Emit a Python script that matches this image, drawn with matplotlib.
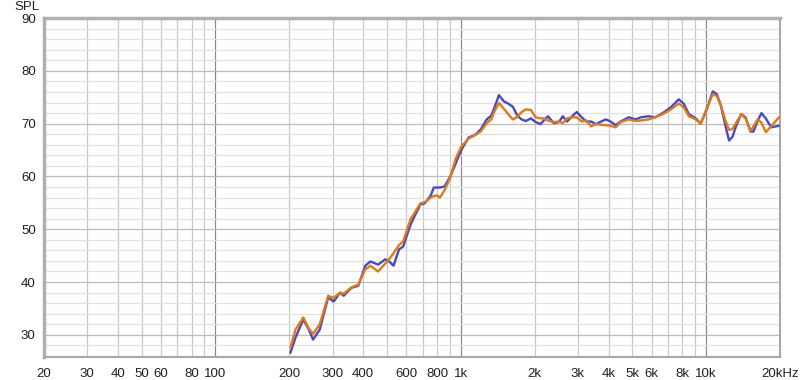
import matplotlib
matplotlib.use("Agg")
import matplotlib.pyplot as plt
import numpy as np

# frequency (Hz) and SPL (dB)
freq = [202, 212, 228, 240, 250, 266, 288, 303, 322, 333, 358, 382, 408, 428, 460,
        492, 510, 532, 560, 582, 624, 684, 712, 754, 776, 800, 822, 858, 906, 950,
        1000, 1018, 1077, 1138, 1205, 1275, 1330, 1370, 1430, 1500, 1560, 1630, 1700,
        1770, 1840, 1930, 2020, 2110, 2180, 2265, 2393, 2510, 2604, 2710, 2840, 2970,
        3110, 3245, 3400, 3556, 3730, 3900, 4080, 4280, 4480, 4830, 5160, 5420, 5810,
        6200, 6650, 7180, 7730, 8100, 8500, 9070, 9500, 10050, 10640, 11050, 11470,
        12000, 12400, 12800, 13300, 13900, 14470, 15170, 15600, 16200, 16800, 17500,
        18400, 19800]
spl_blue = [26.6, 29.5, 32.9, 31.0, 29.1, 31.0, 37.1, 36.3, 38.0, 37.4, 38.9, 39.3, 43.1, 43.9, 43.3,
            44.3, 43.9, 43.1, 46.2, 46.7, 50.9, 54.7, 54.9, 56.4, 57.9, 57.9, 57.9, 58.1, 60.0, 62.3,
            64.8, 65.5, 67.4, 67.8, 68.9, 70.8, 71.5, 73.0, 75.4, 74.2, 73.8, 73.2, 71.5,
            70.8, 70.5, 71.0, 70.3, 69.9, 70.6, 71.4, 70.1, 70.3, 71.4, 70.4, 71.4, 72.2,
            71.2, 70.4, 70.4, 69.9, 70.4, 70.8, 70.4, 69.7, 70.4, 71.2, 70.8, 71.2, 71.4,
            71.2, 72.0, 73.1, 74.6, 73.8, 71.8, 71.0, 70.0, 72.7, 76.1, 75.6, 73.5,
            69.5, 66.8, 67.5, 69.8, 71.8, 71.2, 68.5, 68.5, 70.5, 72.0, 71.0,
            69.3, 69.6]
spl_orange = [27.6, 31.0, 33.3, 31.2, 30.2, 32.0, 37.4, 37.0, 38.0, 37.8, 39.0, 39.5, 42.4, 43.1, 42.0,
              43.5, 44.3, 45.5, 47.0, 47.7, 51.9, 54.9, 55.1, 56.0, 56.3, 56.4, 56.0, 57.4, 59.8, 63.2,
              65.5, 66.0, 67.2, 67.8, 68.5, 70.1, 70.8, 72.3, 73.9, 72.8, 71.8, 70.8, 71.3,
              72.2, 72.7, 72.6, 71.2, 71.0, 71.0, 70.6, 70.3, 70.4, 70.1, 71.0, 71.2, 71.2,
              70.4, 70.6, 69.5, 69.9, 69.8, 69.7, 69.6, 69.3, 70.3, 70.8, 70.5, 70.6, 70.8,
              71.2, 71.8, 72.7, 73.8, 73.1, 71.4, 70.8, 70.0, 72.8, 75.6, 75.2, 73.5,
              70.5, 68.8, 69.0, 70.3, 71.8, 71.0, 68.6, 69.5, 70.8, 70.2, 68.4,
              69.5, 71.2]

xticks = [20, 30, 40, 50, 60, 80, 100, 200, 300, 400, 600, 800, 1000,
          2000, 3000, 4000, 5000, 6000, 8000, 10000, 20000]
xlabels = ["20", "30", "40", "50", "60", "80", "100", "200", "300", "400", "600", "800", "1k",
           "2k", "3k", "4k", "5k", "6k", "8k", "10k", "20kHz"]

plt.rcParams['font.family'] = ['Liberation Sans', 'DejaVu Sans']

fig = plt.figure(figsize=(8, 3.8), dpi=100)
ax = fig.add_axes([0.055, 0.0605, 0.92, 0.892])

ax.set_xscale('log')
ax.set_xlim(20, 20000)
ax.set_ylim(25.8, 90)

# grid lines
for d in [10, 100, 1000, 10000]:
    for m in range(1, 10):
        f = d * m
        if f < 20 or f > 20000:
            continue
        if m == 1 and d >= 100:
            ax.axvline(f, color='#8a8a8a', lw=0.9, zorder=1)
        else:
            ax.axvline(f, color='#c8c8c8', lw=0.9, zorder=1)
for y in range(26, 91, 2):
    if y % 10 == 0:
        ax.axhline(y, color='#bcbcbc', lw=0.9, zorder=1)
    else:
        ax.axhline(y, color='#e2e2e2', lw=0.9, zorder=1)

ax.plot(freq, spl_blue, color='#4848c8', lw=1.7, zorder=3,
        solid_joinstyle='round', solid_capstyle='round')
ax.plot(freq, spl_orange, color='#e07a14', lw=1.7, zorder=4,
        solid_joinstyle='round', solid_capstyle='round')

ax.set_xticks(xticks)
ax.set_xticklabels(xlabels)
ax.xaxis.set_minor_locator(matplotlib.ticker.NullLocator())
ax.set_yticks(range(30, 91, 10))
ax.tick_params(length=0, labelsize=9.5, colors='#202020')
ax.tick_params(axis='x', pad=8)
ax.tick_params(axis='y', pad=6)

for s in ['left', 'top']:
    ax.spines[s].set_color('#b0b0b0')
    ax.spines[s].set_linewidth(2.5)
for s in ['right', 'bottom']:
    ax.spines[s].set_color('#a8a8a8')
    ax.spines[s].set_linewidth(1.5)

fig.text(0.018, 0.982, "SPL", fontsize=9.5, color='#202020', va='center')

fig.savefig("out.png", dpi=100)
